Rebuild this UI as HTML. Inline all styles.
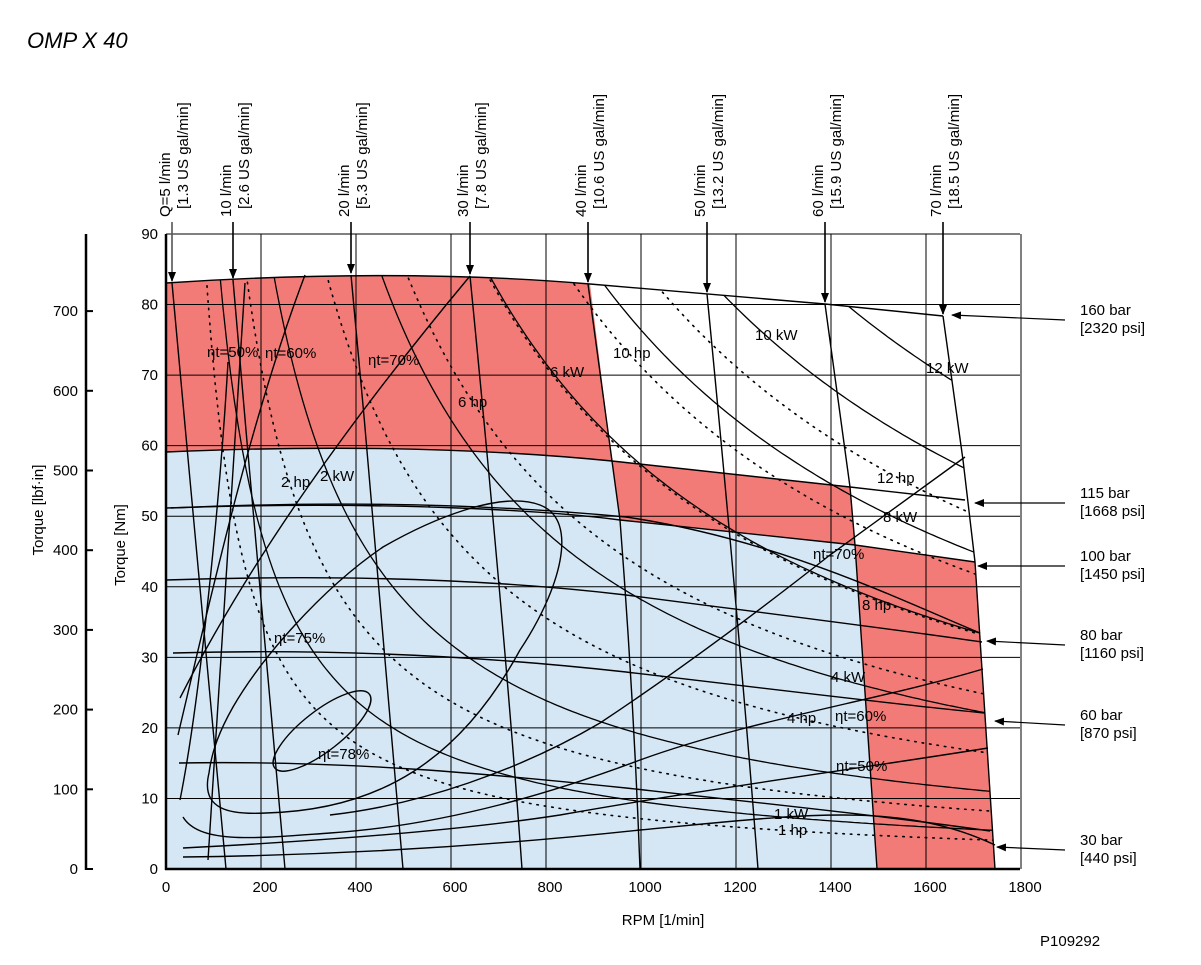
<!DOCTYPE html>
<html><head><meta charset="utf-8"><style>
body{margin:0;background:#fff;}
svg{display:block;font-family:"Liberation Sans",sans-serif;}
</style></head><body>
<svg id="s" width="1201" height="965" viewBox="0 0 1201 965" xmlns="http://www.w3.org/2000/svg">
<defs>
<clipPath id="env"><path d="M166,283 C300,274 450,272 590,284 L825,304 L943,316 L963,460 L975,562 L995,869 L166,869 Z"/></clipPath>
<marker id="ah" markerWidth="10" markerHeight="8" refX="9" refY="4" orient="auto" markerUnits="userSpaceOnUse"><path d="M0,0 L10,4 L0,8 Z" fill="#000"/></marker>
</defs>
<text x="27" y="48" font-size="22" font-style="italic">OMP X 40</text>
<path d="M166,869 L166,283 C300,274 450,272 590,284 L825,304 L943,316 L963,460 L975,562 L995,869 Z" fill="#fff"/>
<path d="M166,869 L166,452 C350,444 500,450 612,461 L620,520 L855,545 L877,869 Z" fill="#d5e6f4"/>
<path d="M166,452 L166,283 C300,274 450,272 590,284 L612,461 C500,450 350,444 166,452 Z" fill="#f27b77"/>
<path d="M612,461 L850,487 L855,545 L620,520 Z" fill="#f27b77"/>
<path d="M855,545 L975,562 L995,869 L877,869 Z" fill="#f27b77"/>
<g id="grid" stroke="#000" stroke-width="1"></g>
<g id="pw" clip-path="url(#env)" fill="none" stroke="#000"></g>
<g fill="none" stroke="#000" stroke-width="1.4">
<path d="M166,283 C300,274 450,272 590,284 L825,304 L943,316"/>
<path d="M166,452 C350,444 500,450 612,461 L850,487 L965,500"/>
<path d="M166,508 C400,500 560,512 620,520 L855,545 L975,562"/>
<path d="M171,508 C350,500 500,505 626,517 C780,540 900,600 980,633"/>
<path d="M166,580 C350,574 500,580 626,595 C780,615 900,630 982,642"/>
<path d="M173,653 C350,648 500,658 626,672 C780,690 900,705 985,713"/>
<path d="M179,763 C350,760 500,775 626,788 C780,805 900,818 990,831"/>
<path d="M172,283 C190,480 210,700 226,869"/>
<path d="M233,280 C250,480 270,700 285,869"/>
<path d="M351,275 C370,480 390,700 403,869"/>
<path d="M470,276 C490,480 510,700 522,869"/>
<path d="M588,284 L612,461 L620,520 C630,650 636,760 640,869"/>
<path d="M707,294 C725,480 745,700 758,869"/>
<path d="M825,304 L850,487 L855,545 L877,869"/>
<path d="M943,316 L963,460 L975,562 L995,869"/>
<path d="M209,773 C200,810 230,815 266,813 C380,810 460,760 520,650 C560,590 580,520 540,505 C500,490 430,520 383,547 C320,590 260,660 233,707 C220,730 212,750 209,773 Z"/>
<ellipse cx="322" cy="731" rx="60" ry="20" transform="rotate(-38 322 731)"/>
<path d="M180,698 C250,560 350,420 470,276"/>
<path d="M178,735 C210,600 250,420 305,275"/>
<path d="M183,817 C200,845 260,838 330,833 C450,825 560,790 640,760 C750,720 880,700 983,669"/>
<path d="M183,848 C300,842 450,832 560,815 C700,790 850,770 988,748"/>
<path d="M183,857 C350,855 500,845 640,830 C800,815 900,800 995,845"/>
<path d="M965,457 L830,555 C760,610 680,670 600,723 C520,770 420,805 330,815"/>
<path d="M245,283 C235,450 220,650 208,860"/>
<path d="M228,362 C220,500 200,700 180,800"/>
</g>
<g stroke="#000" fill="none">
<line x1="166" y1="234" x2="166" y2="870" stroke-width="2.5"/>
<line x1="165" y1="869" x2="1020" y2="869" stroke-width="2.5"/>
<line x1="86" y1="234" x2="86" y2="870" stroke-width="2.5"/>
</g>
<g id="ticks" font-size="15"></g>
<g font-size="15" fill="#000">
<text x="207" y="357">ηt=50%</text><text x="265" y="358">ηt=60%</text><text x="368" y="365">ηt=70%</text>
<text x="458" y="407">6 hp</text><text x="550" y="377">6 kW</text><text x="613" y="358">10 hp</text>
<text x="755" y="340">10 kW</text><text x="926" y="373">12 kW</text><text x="281" y="487">2 hp</text>
<text x="320" y="481">2 kW</text><text x="877" y="483">12 hp</text><text x="883" y="522">8 kW</text>
<text x="813" y="559">ηt=70%</text><text x="862" y="610">8 hp</text><text x="274" y="643">ηt=75%</text>
<text x="831" y="682">4 kW</text><text x="787" y="723">4 hp</text><text x="835" y="721">ηt=60%</text>
<text x="318" y="759">ηt=78%</text><text x="836" y="771">ηt=50%</text><text x="774" y="819">1 kW</text>
<text x="778" y="835">1 hp</text>
</g>
<g id="top" font-size="15"></g>
<g id="right" font-size="15"></g>
<text x="663" y="925" font-size="15" text-anchor="middle">RPM [1/min]</text>
<text x="1040" y="946" font-size="15">P109292</text>
<text transform="translate(125,545) rotate(-90)" font-size="15" text-anchor="middle">Torque [Nm]</text>
<text transform="translate(43,510) rotate(-90)" font-size="15" text-anchor="middle">Torque [lbf·in]</text>
</svg>
<script>
var NS="http://www.w3.org/2000/svg";
function el(p,t,a,txt){var e=document.createElementNS(NS,t);for(var k in a)e.setAttribute(k,a[k]);if(txt!==undefined)e.textContent=txt;document.getElementById(p).appendChild(e);return e;}
var X=function(n){return 166+n*0.475}, Y=function(t){return 869-t*7.056};
for(var i=1;i<=9;i++){el("grid","line",{x1:X(i*200),y1:234,x2:X(i*200),y2:869});}
for(var j=1;j<=9;j++){el("grid","line",{x1:166,y1:Y(j*10),x2:1020,y2:Y(j*10)});}
for(var j=0;j<=9;j++){el("ticks","text",{x:158,y:Y(j*10)+5,"text-anchor":"end"},String(j*10));}
for(var i=0;i<=9;i++){el("ticks","text",{x:X(i*200)+(i==0?0:4),y:892,"text-anchor":"middle"},String(i*200));}
for(var k=0;k<=7;k++){var y=869-k*79.7;el("ticks","line",{x1:86,y1:y,x2:93,y2:y,stroke:"#000","stroke-width":2});el("ticks","text",{x:78,y:y+5,"text-anchor":"end"},String(k*100));}
function curve(P,dot){var d="";for(var n=40;n<=1800;n+=8){var T=P/(n*Math.PI/30);if(T>95)continue;d+=(d?"L":"M")+X(n).toFixed(1)+","+Y(T).toFixed(1);}
var a={d:d,"stroke-width":dot?1.6:1.3};if(dot){a["stroke-dasharray"]="1.5 6";a["stroke-linecap"]="round";}el("pw","path",a);}
[1,2,4,6,8,10,12].forEach(function(k){curve(k*1000,false);curve(k*745.7,true);});
var flows=[[172,283,"Q=5 l/min","[1.3 US gal/min]"],[233,280,"10 l/min","[2.6 US gal/min]"],[351,275,"20 l/min","[5.3 US gal/min]"],[470,276,"30 l/min","[7.8 US gal/min]"],[588,284,"40 l/min","[10.6 US gal/min]"],[707,294,"50 l/min","[13.2 US gal/min]"],[825,304,"60 l/min","[15.9 US gal/min]"],[943,316,"70 l/min","[18.5 US gal/min]"]];
flows.forEach(function(f,i){el("top","line",{x1:f[0],y1:222,x2:f[0],y2:f[1]-2,stroke:i==0?"#555":"#000","stroke-width":1.6,"marker-end":"url(#ah)"});
el("top","text",{transform:"translate("+(f[0]-2)+",217) rotate(-90)"},f[2]);
el("top","text",{transform:"translate("+(f[0]+16)+",209) rotate(-90)"},f[3]);});
var rl=[[320,315,952,"160 bar","[2320 psi]"],[503,503,975,"115 bar","[1668 psi]"],[566,566,978,"100 bar","[1450 psi]"],[645,641,987,"80 bar","[1160 psi]"],[725,721,995,"60 bar","[870 psi]"],[850,847,997,"30 bar","[440 psi]"]];
rl.forEach(function(r){el("right","line",{x1:1065,y1:r[0],x2:r[2],y2:r[1],stroke:"#000","stroke-width":1.2,"marker-end":"url(#ah)"});
el("right","text",{x:1080,y:r[0]-5},r[3]);el("right","text",{x:1080,y:r[0]+13},r[4]);});
</script>
</body></html>
